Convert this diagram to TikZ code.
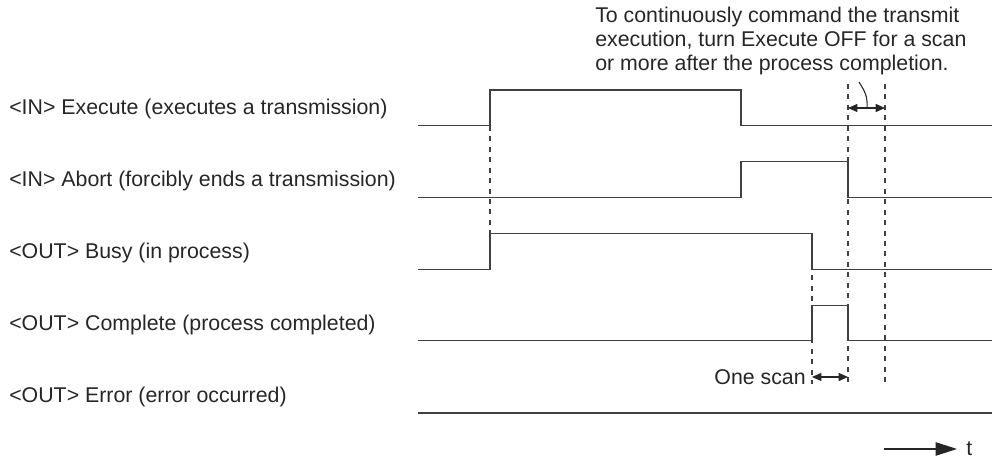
\documentclass[tikz,border=0pt]{standalone}
\usepackage{fontspec}
\setmainfont{Liberation Sans}
\usetikzlibrary{arrows.meta}
\begin{document}
\begin{tikzpicture}[x=0.75pt,y=-0.75pt,
  sig/.style={draw=black!75, line width=1.1pt, line join=miter},
  guide/.style={draw=black!75, line width=0.85pt, dash pattern=on 3.75pt off 4.1pt},
  dim/.style={draw=black!85, line width=1pt, {Triangle[length=7pt,width=6pt]}-{Triangle[length=7pt,width=6pt]}},
  lbl/.style={anchor=base west, inner sep=0pt, font=\fontsize{16}{18}\selectfont, text=black!85},
  note/.style={inner sep=0pt, font=\fontsize{16}{17.9}\selectfont, text=black!85}]
\useasboundingbox (0,0) rectangle (993,460);
% labels
\node[lbl] (lexe) at (9,114) {<IN> Execute (executes a transmission)};
\node[lbl] (labo) at (9,186) {<IN> Abort (forcibly ends a transmission)};
\node[lbl] (lbus) at (9,258) {<OUT> Busy (in process)};
\node[lbl] (lcom) at (9,330) {<OUT> Complete (process completed)};
\node[lbl] (lerr) at (9,402) {<OUT> Error (error occurred)};
% waveforms
\draw[sig] (418,125.7) -- (490,125.7) -- (490,90) -- (741,90) -- (741,125.7) -- (992,125.7);
\draw[sig] (418,197.7) -- (741,197.7) -- (741,161.7) -- (848,161.7) -- (848,197.7) -- (992,197.7);
\draw[sig] (418,269.5) -- (490,269.5) -- (490,233.5) -- (812,233.5) -- (812,269.5) -- (992,269.5);
\draw[sig] (418,340.7) -- (812,340.7) -- (812,305.7) -- (848,305.7) -- (848,340.7) -- (992,340.7);
\draw[sig, line width=1.5pt] (418,412.7) -- (992,412.7);
% guides
\coordinate (g1t) at (490,125.7); \coordinate (g1b) at (490,233.5);
\coordinate (g2t) at (812,233.5); \coordinate (g2b) at (812,384);
\coordinate (g3t) at (848,84);    \coordinate (g3b) at (848,384);
\coordinate (g4t) at (885,84);    \coordinate (g4b) at (885,384);
\draw[guide] (g1t) -- (g1b);
\draw[guide] (g2t) -- (g2b);
\draw[guide] (g3t) -- (g3b);
\draw[guide] (g4t) -- (g4b);
% one scan
\coordinate (os1) at (812,377); \coordinate (os2) at (848,377);
\draw[dim] (os1) -- (os2);
\node[note, anchor=base east] (onescan) at (806,384) {One scan};
% top note
\coordinate (ta1) at (848,108); \coordinate (ta2) at (885,108);
\draw[dim] (ta1) -- (ta2);
\node[note, anchor=north west, align=left] (tnote) at (595,7)
  {To continuously command the transmit\\execution, turn Execute OFF for a scan\\or more after the process completion.};
\coordinate (cm) at (867,108);
\coordinate (ct) at (859,82);
\draw[black!85, line width=0.8pt] (ct) .. controls (864,90) and (868,96) .. (cm);
% time axis
\coordinate (t0) at (884,449); \coordinate (t1) at (957,449);
\draw[black!85, line width=1pt, -{Triangle[length=16pt,width=10pt]}] (t0) -- (t1);
\node[note, anchor=west] (tlab) at (966,449) {t};
\end{tikzpicture}
\end{document}
